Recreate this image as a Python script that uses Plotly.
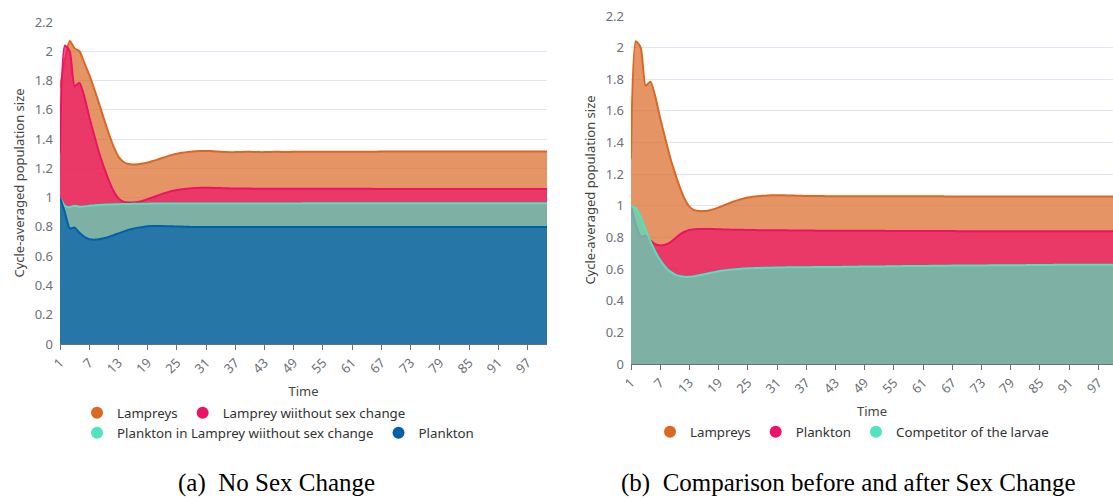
import plotly.graph_objects as go

# Time steps shared by both panels
time = list(range(1, 102))
tick_labels = list(range(1, 98, 6))

# (a) No Sex Change
lampreys_a = [
    1.75, 1.94, 2.07, 2.02, 2.00, 1.92, 1.84, 1.745, 1.645, 1.54,
    1.44, 1.35, 1.28, 1.245, 1.23, 1.227, 1.228, 1.233, 1.24, 1.25,
    1.26, 1.271, 1.282, 1.292, 1.300, 1.306, 1.311, 1.314, 1.317, 1.318,
    1.319, 1.318, 1.316, 1.313, 1.311, 1.310, 1.311, 1.312, 1.313, 1.313,
    1.312, 1.311, 1.311, 1.312, 1.313, 1.313, 1.312, 1.312, 1.313, 1.314,
    1.314, 1.313, 1.313, 1.313, 1.314, 1.314, 1.314, 1.313, 1.313, 1.314,
    1.314, 1.314, 1.314, 1.314, 1.314, 1.314, 1.315, 1.315, 1.315, 1.315,
    1.315, 1.315, 1.315, 1.315, 1.315, 1.315, 1.315, 1.315, 1.315, 1.315,
    1.315, 1.315, 1.315, 1.315, 1.315, 1.315, 1.315, 1.316, 1.316, 1.316,
    1.316, 1.316, 1.316, 1.316, 1.316, 1.316, 1.316, 1.316, 1.316, 1.316,
    1.316,
]
lamprey_no_change = [
    1.30, 2.04, 2.00, 1.76, 1.785, 1.69, 1.553, 1.43, 1.31, 1.21,
    1.12, 1.045, 0.995, 0.973, 0.967, 0.967, 0.971, 0.979, 0.99, 1.002,
    1.014, 1.026, 1.036, 1.045, 1.052, 1.057, 1.061, 1.064, 1.066, 1.067,
    1.067, 1.067, 1.066, 1.065, 1.064, 1.063, 1.062, 1.062, 1.062, 1.062,
    1.061, 1.061, 1.061, 1.061, 1.061, 1.061, 1.061, 1.060, 1.060, 1.060,
    1.060, 1.060, 1.060, 1.060, 1.060, 1.060, 1.060, 1.060, 1.060, 1.060,
    1.060, 1.060, 1.060, 1.060, 1.060, 1.059, 1.059, 1.059, 1.059, 1.059,
    1.059, 1.059, 1.059, 1.059, 1.059, 1.059, 1.059, 1.059, 1.059, 1.059,
    1.059, 1.059, 1.059, 1.059, 1.059, 1.059, 1.059, 1.059, 1.059, 1.059,
    1.059, 1.059, 1.059, 1.059, 1.059, 1.059, 1.059, 1.059, 1.059, 1.059,
    1.059,
]
plankton_no_change = [
    1.00, 0.945, 0.935, 0.945, 0.937, 0.940, 0.944, 0.947, 0.950, 0.952,
    0.953, 0.954, 0.955, 0.956, 0.957, 0.958, 0.958, 0.959, 0.959, 0.960,
    0.960, 0.960, 0.960, 0.960, 0.960, 0.960, 0.960, 0.960, 0.960, 0.960,
    0.960, 0.960, 0.960, 0.960, 0.960, 0.960, 0.960, 0.960, 0.960, 0.960,
    0.960, 0.960, 0.960, 0.960, 0.960, 0.960, 0.960, 0.960, 0.960, 0.960,
    0.961, 0.961, 0.961, 0.961, 0.961, 0.961, 0.961, 0.961, 0.961, 0.961,
    0.961, 0.961, 0.961, 0.961, 0.961, 0.961, 0.961, 0.961, 0.961, 0.961,
    0.961, 0.961, 0.961, 0.961, 0.961, 0.961, 0.961, 0.961, 0.961, 0.961,
    0.961, 0.961, 0.961, 0.961, 0.961, 0.961, 0.961, 0.961, 0.961, 0.961,
    0.961, 0.961, 0.961, 0.961, 0.961, 0.961, 0.961, 0.961, 0.961, 0.961,
    0.961,
]
plankton_a = [
    1.00, 0.90, 0.79, 0.795, 0.76, 0.732, 0.716, 0.713, 0.716, 0.722,
    0.731, 0.743, 0.756, 0.768, 0.779, 0.788, 0.795, 0.800, 0.804, 0.806,
    0.806, 0.806, 0.805, 0.804, 0.803, 0.802, 0.801, 0.800, 0.800, 0.799,
    0.799, 0.799, 0.799, 0.799, 0.799, 0.799, 0.799, 0.799, 0.799, 0.799,
    0.799, 0.799, 0.799, 0.799, 0.799, 0.799, 0.799, 0.799, 0.799, 0.799,
    0.799, 0.799, 0.799, 0.799, 0.799, 0.799, 0.799, 0.799, 0.799, 0.799,
    0.799, 0.799, 0.799, 0.799, 0.799, 0.799, 0.799, 0.799, 0.799, 0.799,
    0.799, 0.799, 0.799, 0.799, 0.799, 0.799, 0.799, 0.799, 0.799, 0.799,
    0.799, 0.799, 0.799, 0.799, 0.799, 0.799, 0.799, 0.799, 0.799, 0.799,
    0.799, 0.799, 0.799, 0.799, 0.799, 0.799, 0.799, 0.799, 0.799, 0.799,
    0.799,
]

# (b) Comparison before and after Sex Change
lampreys_b = lamprey_no_change
plankton_b = [
    1.00, 0.88, 0.805, 0.812, 0.78, 0.757, 0.750, 0.754, 0.768, 0.792,
    0.818, 0.836, 0.847, 0.852, 0.854, 0.854, 0.854, 0.853, 0.852, 0.851,
    0.850, 0.849, 0.848, 0.848, 0.847, 0.847, 0.846, 0.846, 0.846, 0.845,
    0.845, 0.845, 0.845, 0.844, 0.844, 0.844, 0.844, 0.844, 0.843, 0.843,
    0.843, 0.843, 0.843, 0.843, 0.842, 0.842, 0.842, 0.842, 0.842, 0.842,
    0.842, 0.842, 0.842, 0.841, 0.841, 0.841, 0.841, 0.841, 0.841, 0.841,
    0.841, 0.841, 0.841, 0.841, 0.841, 0.841, 0.841, 0.840, 0.840, 0.840,
    0.840, 0.840, 0.840, 0.840, 0.840, 0.840, 0.840, 0.840, 0.840, 0.840,
    0.840, 0.840, 0.840, 0.840, 0.840, 0.840, 0.840, 0.840, 0.840, 0.840,
    0.840, 0.840, 0.840, 0.840, 0.840, 0.840, 0.840, 0.840, 0.840, 0.840,
    0.840,
]
competitor_b = [
    1.00, 0.985, 0.93, 0.85, 0.775, 0.71, 0.657, 0.616, 0.586, 0.567,
    0.556, 0.551, 0.551, 0.555, 0.561, 0.567, 0.574, 0.580, 0.586, 0.591,
    0.595, 0.598, 0.601, 0.603, 0.605, 0.606, 0.607, 0.608, 0.609, 0.609,
    0.610, 0.610, 0.611, 0.611, 0.611, 0.612, 0.612, 0.612, 0.613, 0.613,
    0.613, 0.614, 0.614, 0.614, 0.615, 0.615, 0.615, 0.616, 0.616, 0.616,
    0.617, 0.617, 0.617, 0.618, 0.618, 0.618, 0.619, 0.619, 0.619, 0.620,
    0.620, 0.620, 0.621, 0.621, 0.621, 0.621, 0.622, 0.622, 0.622, 0.622,
    0.623, 0.623, 0.623, 0.623, 0.624, 0.624, 0.624, 0.624, 0.625, 0.625,
    0.625, 0.625, 0.626, 0.626, 0.626, 0.626, 0.626, 0.627, 0.627, 0.627,
    0.627, 0.627, 0.628, 0.628, 0.628, 0.628, 0.628, 0.628, 0.628, 0.628,
    0.628,
]

ORANGE = (218, 104, 36)
PINK = (236, 19, 102)
TEAL = (81, 226, 191)
BLUE = (0, 96, 170)

FONT = "Noto Sans"
AXIS_GRAY = "#6e7079"
TITLE_GRAY = "#464646"
W, H = 1113, 499


def rgb(c, a=None):
    if a is None:
        return "rgb(%d,%d,%d)" % c
    return "rgba(%d,%d,%d,%.2f)" % (c + (a,))


def area(y, color, xa, ya):
    return go.Scatter(
        x=time, y=y, mode="lines", fill="tozeroy",
        fillcolor=rgb(color, 0.7),
        line=dict(color=rgb(color), width=2, shape="spline", smoothing=0.6),
        xaxis=xa, yaxis=ya, showlegend=False, hoverinfo="skip",
    )


def key(name, color, legend, xa, ya):
    return go.Scatter(
        x=[None], y=[None], mode="markers", name=name,
        marker=dict(size=12, color=rgb(color)),
        legend=legend, xaxis=xa, yaxis=ya,
    )


fig = go.Figure()
fig.add_trace(area(lampreys_a, ORANGE, "x", "y"))
fig.add_trace(area(lamprey_no_change, PINK, "x", "y"))
fig.add_trace(area(plankton_no_change, TEAL, "x", "y"))
fig.add_trace(area(plankton_a, BLUE, "x", "y"))

fig.add_trace(area(lampreys_b, ORANGE, "x2", "y2"))
fig.add_trace(area(plankton_b, PINK, "x2", "y2"))
fig.add_trace(area(competitor_b, TEAL, "x2", "y2"))

fig.add_trace(key("Lampreys", ORANGE, "legend", "x", "y"))
fig.add_trace(key("Lamprey wiithout sex change", PINK, "legend", "x", "y"))
fig.add_trace(key("Plankton in Lamprey wiithout sex change", TEAL, "legend2", "x", "y"))
fig.add_trace(key("Plankton", BLUE, "legend2", "x", "y"))
fig.add_trace(key("Lampreys", ORANGE, "legend3", "x2", "y2"))
fig.add_trace(key("Plankton", PINK, "legend3", "x2", "y2"))
fig.add_trace(key("Competitor of the larvae", TEAL, "legend3", "x2", "y2"))


def px_x(p):
    return p / W


def px_y(p):
    return 1 - p / H


xaxis_common = dict(
    tickmode="array", tickvals=tick_labels, ticktext=[str(v) for v in tick_labels],
    tickangle=-45, showline=True, linecolor=AXIS_GRAY, linewidth=1,
    ticks="outside", ticklen=5, tickcolor=AXIS_GRAY, showgrid=False,
    zeroline=False, tickfont=dict(family=FONT, size=13, color=AXIS_GRAY),
    title=dict(text="Time", font=dict(family=FONT, size=13, color=TITLE_GRAY), standoff=10),
    automargin=False,
)
yaxis_common = dict(
    range=[0, 2.2], dtick=0.2, tick0=0, showgrid=True, gridcolor="#e0e6f1",
    gridwidth=1, zeroline=False, showline=False, ticks="", ticklabelstandoff=6,
    tickfont=dict(family=FONT, size=13, color=AXIS_GRAY),
    title=dict(text="Cycle-averaged population size",
               font=dict(family=FONT, size=13, color=TITLE_GRAY), standoff=7),
    automargin=False,
)

legend_common = dict(
    orientation="h", xanchor="left", yanchor="middle", bgcolor="rgba(0,0,0,0)",
    font=dict(family=FONT, size=13.3, color="#333333"), itemclick=False,
    itemdoubleclick=False,
)

caption_font = dict(family="Liberation Serif", size=25, color="black")

fig.update_layout(
    width=W, height=H, margin=dict(l=0, r=0, t=0, b=0),
    paper_bgcolor="white", plot_bgcolor="white",
    xaxis=dict(domain=[px_x(60), px_x(547)], range=[1, 101], anchor="y", **xaxis_common),
    yaxis=dict(domain=[px_y(344), px_y(22)], anchor="x", **yaxis_common),
    xaxis2=dict(domain=[px_x(631), 1.0], range=[1, 100], anchor="y2", **xaxis_common),
    yaxis2=dict(domain=[px_y(364), px_y(16)], anchor="x2", **yaxis_common),
    legend=dict(x=px_x(77), y=px_y(413), **legend_common),
    legend2=dict(x=px_x(77), y=px_y(433), **legend_common),
    legend3=dict(x=px_x(650), y=px_y(432), **legend_common),
    annotations=[
        dict(text="(a)\u00a0\u00a0No Sex Change", x=px_x(276), y=0.0,
             xref="paper", yref="paper", xanchor="center", yanchor="bottom",
             showarrow=False, font=caption_font),
        dict(text="(b)\u00a0\u00a0Comparison before and after Sex Change", x=px_x(848),
             y=0.0, xref="paper", yref="paper", xanchor="center", yanchor="bottom",
             showarrow=False, font=caption_font),
    ],
)

fig.write_html("out.html")
